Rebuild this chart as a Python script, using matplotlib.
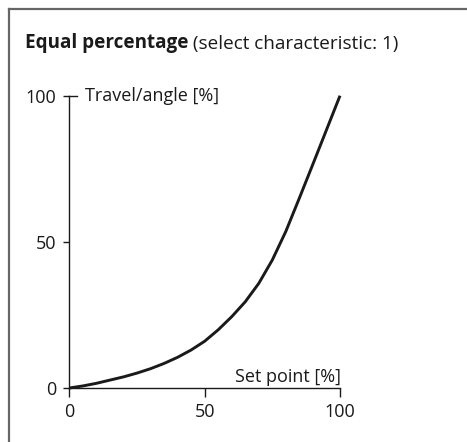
import matplotlib
matplotlib.use("Agg")
import matplotlib.pyplot as plt
from matplotlib.lines import Line2D

plt.rcParams['font.family'] = ['Open Sans', 'DejaVu Sans']

set_point = [0, 5, 10, 15, 20, 25, 30, 35, 40, 45, 50, 55, 60, 65, 70, 75,
             80, 85, 90, 95, 100]
travel = [0, 0.7, 1.6, 2.7, 3.8, 5.1, 6.6, 8.4, 10.5, 13.0, 16.0, 19.9, 24.4,
          29.5, 35.8, 43.8, 53.6, 65.0, 76.6, 88.3, 100]
x_ticks = [0, 50, 100]
y_ticks = [0, 50, 100]

W, H = 467, 442
fig = plt.figure(figsize=(W / 100, H / 100), dpi=100)

# axes: x 0->px69.3, 100->px340 ; y 0->px388, 100->px95.7
l, r, t, b = 69.3, 340.0, 95.7, 388.0
ax = fig.add_axes([l / W, 1 - b / H, (r - l) / W, (b - t) / H])
ax.plot(set_point, travel, color='#1a1a1a', lw=2.1, solid_capstyle='butt',
        solid_joinstyle='round', clip_on=False)
ax.set_xlim(0, 100)
ax.set_ylim(0, 100)
for s in ['top', 'right']:
    ax.spines[s].set_visible(False)
for s in ['left', 'bottom']:
    ax.spines[s].set_linewidth(1.0)
    ax.spines[s].set_color('#1a1a1a')
ax.set_xticks(x_ticks)
ax.set_yticks(y_ticks)
FS = 13.0
ax.tick_params(axis='x', direction='out', length=6.5, width=1.0, pad=4,
               labelsize=FS, colors='#1a1a1a')
ax.tick_params(axis='y', direction='out', length=4.3, width=1.0, pad=5,
               labelsize=FS, colors='#1a1a1a')
# tick at 100 on y axis crosses the axis (T shape)
ax.plot([0, 2.9], [100, 100], color='#1a1a1a', lw=1.0, clip_on=False)

ax.text(5.9, 100, 'Travel/angle [%]', fontsize=FS, color='#1a1a1a',
        va='center', ha='left')
ax.text(100.4, 2.0, 'Set point [%]', fontsize=FS, color='#1a1a1a',
        va='baseline', ha='right')

# title
TFS = 13.6
t1 = fig.text(25 / W, 1 - 48 / H, 'Equal percentage', fontsize=TFS,
              fontweight='bold', color='#1a1a1a', va='baseline', ha='left')
ax.annotate(' (select characteristic: 1)', xy=(1, 0), xycoords=t1,
            fontsize=TFS, color='#1a1a1a', va='bottom', ha='left',
            annotation_clip=False)

# frame lines (top and left)
fig.add_artist(Line2D([9 / W, 1], [1 - 8.8 / H, 1 - 8.8 / H],
                      transform=fig.transFigure, color='#666666', lw=1.6))
fig.add_artist(Line2D([9.3 / W, 9.3 / W], [0, 1 - 8.8 / H],
                      transform=fig.transFigure, color='#666666', lw=1.6))

fig.savefig('out.png', dpi=100)
